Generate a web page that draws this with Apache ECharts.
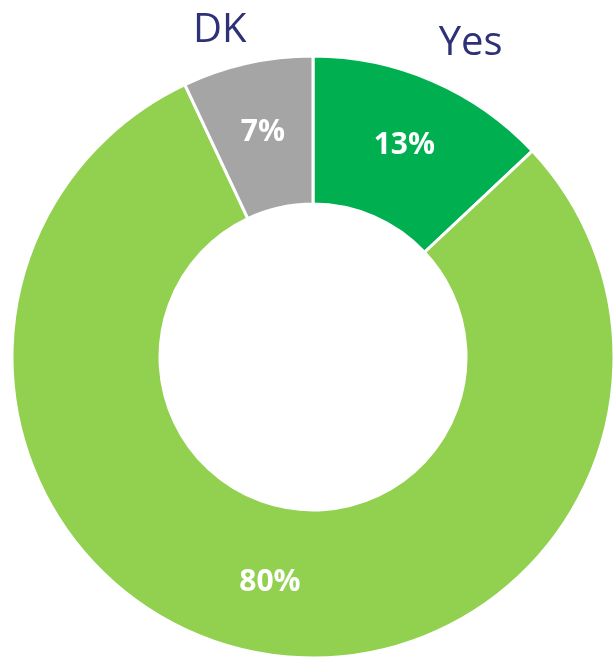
<!DOCTYPE html>
<html>
<head>
<meta charset="utf-8">
<script src="https://cdn.jsdelivr.net/npm/echarts@6/dist/echarts.min.js"></script>
<style>
  html, body { margin: 0; padding: 0; background: #fff; }
  #chart { width: 613px; height: 659px; }
</style>
</head>
<body>
<div id="chart"></div>
<script>
// Survey answers, clockwise from 12 o'clock
const categories = ['Yes', 'No', 'DK'];
const shares = [13, 80, 7];
const sliceColors = ['#00B050', '#92D050', '#A5A5A5'];
// Category names drawn outside the ring (the "No" name is not shown)
const showName = [true, false, true];

const chart = echarts.init(document.getElementById('chart'), null, { renderer: 'canvas' });

const ringData = categories.map((c, i) => ({
  name: c,
  value: shares[i],
  itemStyle: { color: sliceColors[i] }
}));

const nameData = categories.map((c, i) => ({
  name: c,
  value: shares[i],
  label: { show: showName[i] }
}));

const center = [313, 357];
// nudges for the outside name labels
const nameShift = [{ dx: -2, dy: -30 }, { dx: 0, dy: 0 }, { dx: 6, dy: -25 }];

chart.setOption({
  animation: false,
  series: [
    {
      type: 'pie',
      center: center,
      radius: [153, 301],
      startAngle: 90,
      clockwise: true,
      silent: true,
      itemStyle: { borderColor: '#ffffff', borderWidth: 3 },
      label: {
        show: true,
        position: 'inside',
        formatter: p => p.value + '%',
        color: '#ffffff',
        fontFamily: 'Open Sans',
        fontWeight: 'bold',
        fontSize: 30
      },
      labelLine: { show: false },
      data: ringData
    },
    {
      type: 'pie',
      center: center,
      radius: [0, 301],
      startAngle: 90,
      clockwise: true,
      silent: true,
      itemStyle: { color: 'transparent' },
      label: {
        position: 'outside',
        formatter: '{b}',
        color: '#2E3175',
        fontFamily: 'Open Sans',
        fontSize: 40,
        alignTo: 'none'
      },
      labelLine: { show: false, length: 8, length2: 0 },
      labelLayout: p => nameShift[p.dataIndex],
      data: nameData
    }
  ]
});
</script>
</body>
</html>
